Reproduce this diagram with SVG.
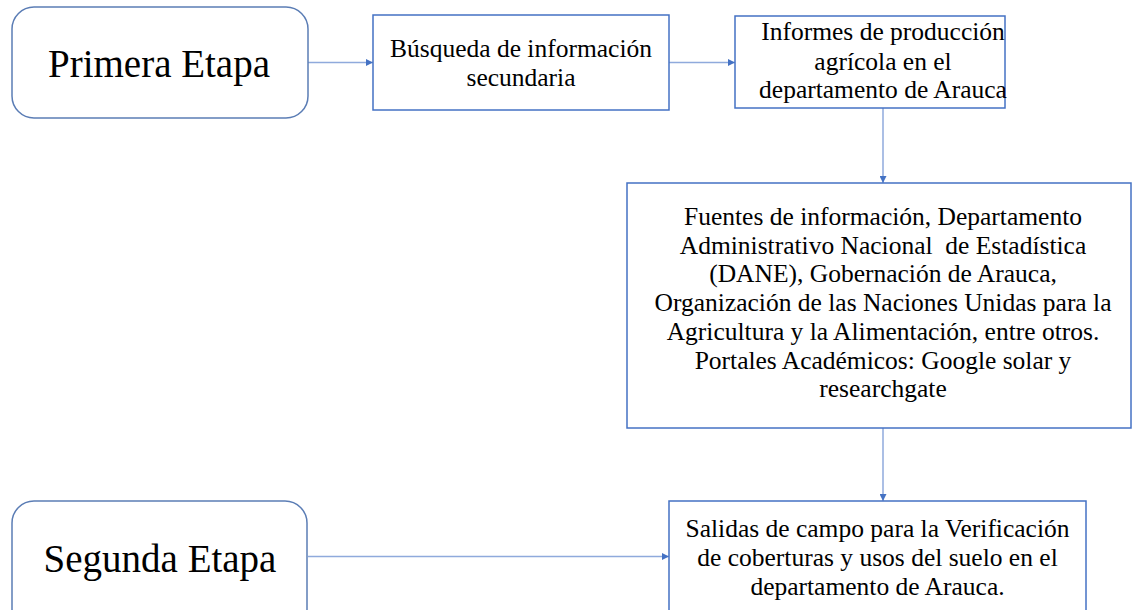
<svg xmlns="http://www.w3.org/2000/svg" width="1133" height="610" viewBox="0 0 1133 610">
<style>
text{font-family:"Liberation Serif","Times New Roman",serif;fill:#000;text-anchor:middle}
.big{font-size:39px}
.t{font-size:25.5px}
.stage{fill:#fff;stroke:#5B7DB5;stroke-width:1.5}
.box{fill:#fff;stroke:#4472C4;stroke-width:1.5}
.conn{fill:none;stroke:#8FAADC;stroke-width:1.5}
</style>
<defs>
<marker id="ah" viewBox="0 0 10 10" refX="10" refY="5" markerWidth="7" markerHeight="7" markerUnits="userSpaceOnUse" orient="auto">
<path d="M0,0 L10,5 L0,10 z" fill="#4472C4"/>
</marker>
</defs>
<rect width="1133" height="610" fill="#fff"/>
<g id="connectors">
<line class="conn" x1="308" y1="62.5" x2="373" y2="62.5" marker-end="url(#ah)"/>
<line class="conn" x1="669" y1="62.5" x2="735" y2="62.5" marker-end="url(#ah)"/>
<line class="conn" x1="883" y1="108" x2="883" y2="183" marker-end="url(#ah)"/>
<line class="conn" x1="883" y1="428" x2="883" y2="501" marker-end="url(#ah)"/>
<line class="conn" x1="308" y1="556.5" x2="669" y2="556.5" marker-end="url(#ah)"/>
</g>
<g id="primera">
<rect class="stage" x="12" y="7" width="296" height="111" rx="22"/>
<text class="big" x="159" y="77">Primera Etapa</text>
</g>
<g id="busqueda">
<rect class="box" x="373" y="15" width="296" height="95"/>
<text class="t" x="521" y="57">Búsqueda de información</text>
<text class="t" x="521" y="86">secundaria</text>
</g>
<g id="informes">
<rect class="box" x="735" y="16" width="270" height="92"/>
<text class="t" x="883" y="40">Informes de producción</text>
<text class="t" x="883" y="69.5">agrícola en el</text>
<text class="t" x="883" y="98">departamento de Arauca</text>
</g>
<g id="fuentes">
<rect class="box" x="627" y="183" width="504" height="245"/>
<text class="t" x="883" y="225">Fuentes de información, Departamento</text>
<text class="t" x="883" y="253.7" xml:space="preserve">Administrativo Nacional  de Estadística</text>
<text class="t" x="883" y="282.4">(DANE), Gobernación de Arauca,</text>
<text class="t" x="883" y="311.1">Organización de las Naciones Unidas para la</text>
<text class="t" x="883" y="339.8">Agricultura y la Alimentación, entre otros.</text>
<text class="t" x="883" y="368.5">Portales Académicos: Google solar y</text>
<text class="t" x="883" y="397.2">researchgate</text>
</g>
<g id="segunda">
<rect class="stage" x="12" y="501" width="295" height="130" rx="22"/>
<text class="big" x="160" y="572">Segunda Etapa</text>
</g>
<g id="salidas">
<rect class="box" x="669" y="501" width="417" height="130"/>
<text class="t" x="877.5" y="537">Salidas de campo para la Verificación</text>
<text class="t" x="877.5" y="566">de coberturas y usos del suelo en el</text>
<text class="t" x="877.5" y="595">departamento de Arauca.</text>
</g>
</svg>
